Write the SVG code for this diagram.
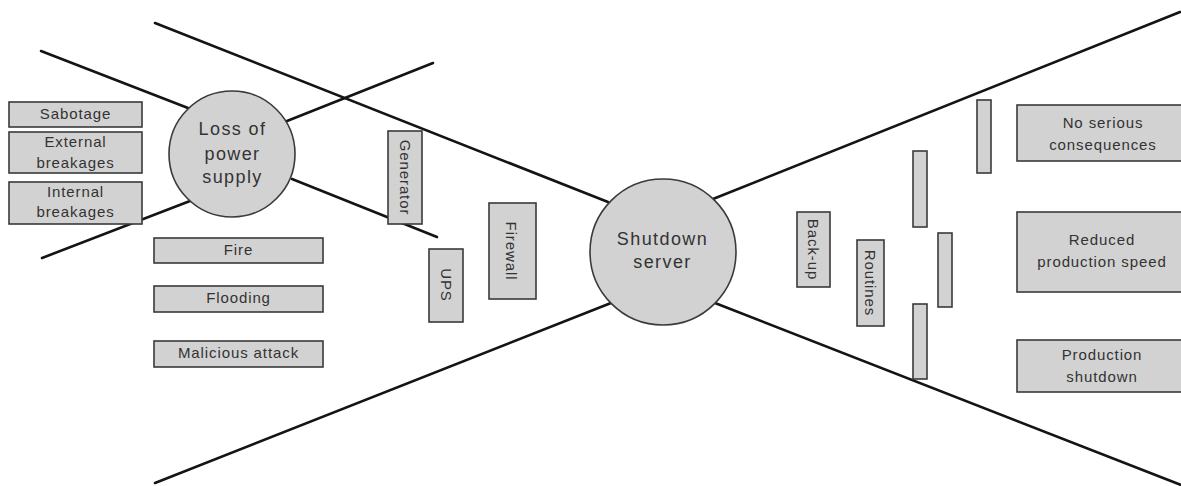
<svg xmlns="http://www.w3.org/2000/svg" width="1181" height="486" viewBox="0 0 1181 486">
  <style>
    .ln { stroke: #141414; stroke-width: 2.6; fill: none; stroke-linecap: round; }
    .box { fill: #d2d2d2; stroke: #3a3a3a; stroke-width: 1.6; }
    .ring { fill: #d2d2d2; stroke: #3a3a3a; stroke-width: 1.6; }
    .t { font-family: "Liberation Sans", Arial, sans-serif; font-size: 15px; fill: #333; text-anchor: middle; letter-spacing: 0.9px; }
    .big { font-size: 18px; letter-spacing: 1.4px; }
  </style>

  <!-- bow-tie spokes -->
  <g id="connectors">
    <line class="ln" x1="155" y1="23" x2="608" y2="202"/>
    <line class="ln" x1="155" y1="483" x2="611" y2="303"/>
    <line class="ln" x1="713" y1="199" x2="1180" y2="12"/>
    <line class="ln" x1="715" y1="303" x2="1181" y2="485"/>
    <line class="ln" x1="41" y1="51" x2="188" y2="108"/>
    <line class="ln" x1="292" y1="179" x2="437" y2="237"/>
    <line class="ln" x1="42" y1="258" x2="190" y2="201"/>
    <line class="ln" x1="287" y1="121" x2="433" y2="63"/>
  </g>

  <!-- causes -->
  <g id="sabotage">
    <rect class="box" x="9" y="102" width="133" height="25"/>
    <text class="t" x="75.5" y="119">Sabotage</text>
  </g>
  <g id="external-breakages">
    <rect class="box" x="9" y="132" width="133" height="41"/>
    <text class="t" x="75.5" y="147">External</text>
    <text class="t" x="75.5" y="168">breakages</text>
  </g>
  <g id="internal-breakages">
    <rect class="box" x="9" y="182" width="133" height="42"/>
    <text class="t" x="75.5" y="197">Internal</text>
    <text class="t" x="75.5" y="217">breakages</text>
  </g>
  <g id="fire">
    <rect class="box" x="154" y="238" width="169" height="25"/>
    <text class="t" x="238.5" y="255">Fire</text>
  </g>
  <g id="flooding">
    <rect class="box" x="154" y="286" width="169" height="26"/>
    <text class="t" x="238.5" y="303">Flooding</text>
  </g>
  <g id="malicious-attack">
    <rect class="box" x="154" y="341" width="169" height="26"/>
    <text class="t" x="238.5" y="358">Malicious attack</text>
  </g>

  <!-- intermediate event -->
  <g id="loss-of-power">
    <circle class="ring" cx="232" cy="154" r="63"/>
    <text class="t big" x="232.5" y="135">Loss of</text>
    <text class="t big" x="232.5" y="160">power</text>
    <text class="t big" x="232.5" y="183">supply</text>
  </g>

  <!-- preventive barriers -->
  <g id="generator">
    <rect class="box" x="388" y="131" width="34" height="93"/>
    <text class="t" transform="translate(405 177.5) rotate(90)" y="5.3" letter-spacing="1.4">Generator</text>
  </g>
  <g id="ups">
    <rect class="box" x="429" y="249" width="34" height="73"/>
    <text class="t" transform="translate(446 285) rotate(90)" y="5.3">UPS</text>
  </g>
  <g id="firewall">
    <rect class="box" x="489" y="203" width="47" height="96"/>
    <text class="t" transform="translate(511 251) rotate(90)" y="5.3">Firewall</text>
  </g>

  <!-- top event -->
  <g id="shutdown-server">
    <circle class="ring" cx="663" cy="252" r="73"/>
    <text class="t big" x="662.5" y="245">Shutdown</text>
    <text class="t big" x="662.5" y="268">server</text>
  </g>

  <!-- mitigating barriers -->
  <g id="back-up">
    <rect class="box" x="797" y="212" width="33" height="75"/>
    <text class="t" transform="translate(813.5 249.5) rotate(90)" y="5.3">Back-up</text>
  </g>
  <g id="routines">
    <rect class="box" x="857" y="240" width="27" height="86"/>
    <text class="t" transform="translate(870.5 283) rotate(90)" y="5.3">Routines</text>
  </g>
  <g id="bar-1">
    <rect class="box" x="913" y="151" width="14" height="76"/>
  </g>
  <g id="bar-2">
    <rect class="box" x="913" y="304" width="14" height="75"/>
  </g>
  <g id="bar-3">
    <rect class="box" x="938" y="233" width="14" height="74"/>
  </g>
  <g id="bar-4">
    <rect class="box" x="977" y="100" width="14" height="73"/>
  </g>

  <!-- consequences -->
  <g id="no-serious-consequences">
    <rect class="box" x="1017" y="105" width="172" height="56"/>
    <text class="t" x="1103" y="128">No serious</text>
    <text class="t" x="1103" y="150">consequences</text>
  </g>
  <g id="reduced-production-speed">
    <rect class="box" x="1017" y="212" width="172" height="80"/>
    <text class="t" x="1102" y="245">Reduced</text>
    <text class="t" x="1102" y="267">production speed</text>
  </g>
  <g id="production-shutdown">
    <rect class="box" x="1017" y="340" width="172" height="52"/>
    <text class="t" x="1102" y="360">Production</text>
    <text class="t" x="1102" y="382">shutdown</text>
  </g>
</svg>
